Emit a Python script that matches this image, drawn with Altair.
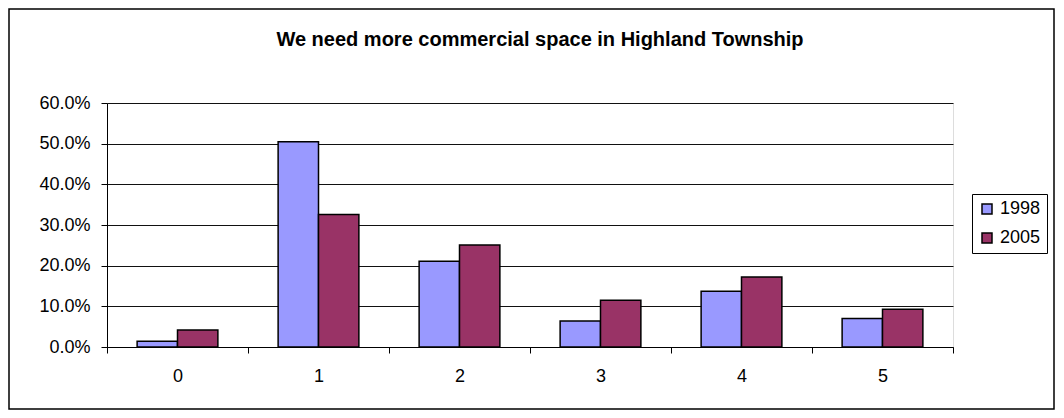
import altair as alt
import pandas as pd

categories = ["0", "1", "2", "3", "4", "5"]
series = ["1998", "2005"]
values_1998 = [1.4, 50.5, 21.1, 6.4, 13.7, 7.0]
values_2005 = [4.2, 32.6, 25.1, 11.5, 17.2, 9.3]
y_ticks = [0.0, 0.1, 0.2, 0.3, 0.4, 0.5, 0.6]
colors = ["#9999FF", "#993366"]
title_text = "We need more commercial space in Highland Township"

rows = []
for i, c in enumerate(categories):
    rows.append({"cat": c, "year": series[0], "value": values_1998[i] / 100})
    rows.append({"cat": c, "year": series[1], "value": values_2005[i] / 100})
df = pd.DataFrame(rows)

W, H = 846, 244
FONT = "Liberation Sans"

bars = alt.Chart(df).mark_bar(stroke="black", strokeWidth=1.5).encode(
    x=alt.X(
        "cat:N", sort=categories,
        scale=alt.Scale(paddingInner=0, paddingOuter=0),
        axis=alt.Axis(title=None, labelAngle=0, tickBand="extent", tickSize=6,
                      labelPadding=14, labelFontSize=18, labelFont=FONT,
                      labelColor="black", domainColor="black", tickColor="black",
                      grid=False),
    ),
    xOffset=alt.XOffset("year:N", sort=series,
                        scale=alt.Scale(paddingInner=0, paddingOuter=0.746)),
    y=alt.Y(
        "value:Q",
        scale=alt.Scale(domain=[0, 0.6], nice=False),
        axis=alt.Axis(title=None, format=".1%", values=y_ticks, tickSize=6,
                      labelPadding=11, labelFontSize=18, labelFont=FONT,
                      labelColor="black", domainColor="black", tickColor="black",
                      grid=True, gridColor="#111111", gridWidth=1),
    ),
    color=alt.Color(
        "year:N",
        scale=alt.Scale(domain=series, range=colors),
        legend=alt.Legend(title=None, orient="none", legendX=865, legendY=91,
                          strokeColor="black", fillColor="white", padding=6,
                          symbolType="square", symbolSize=100,
                          symbolStrokeColor="black", symbolStrokeWidth=1.5,
                          labelFontSize=18, labelFont=FONT, labelColor="black",
                          rowPadding=11, labelOffset=4),
    ),
)

frame = alt.Chart(alt.Data(values=[{}])).mark_rect(
    filled=False, stroke="black", strokeWidth=1.5
).encode(
    x=alt.value(-98), x2=alt.value(947), y=alt.value(-94), y2=alt.value(306)
)

chart = alt.layer(frame, bars).properties(
    width=W, height=H,
    title=alt.Title(title_text, fontSize=20, font=FONT, fontWeight="bold",
                    anchor="middle", frame="group", dx=10, offset=0, dy=42,
                    color="black"),
    autosize=alt.AutoSizeParams(type="none"),
    padding={"left": 99, "top": 95, "right": 103, "bottom": 63},
).configure_view(stroke=None).configure(background="white")

chart.save("out.html", embed_options={"renderer": "svg", "actions": False})
